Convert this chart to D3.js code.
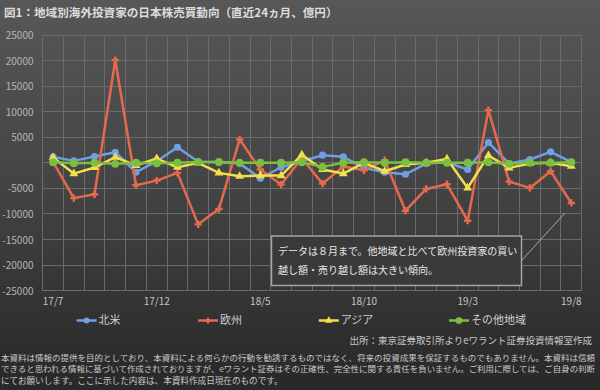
<!DOCTYPE html>
<html><head><meta charset="utf-8">
<script src="https://cdn.jsdelivr.net/npm/d3@7"></script>
<style>body{margin:0;background:#2a2a2a}svg{display:block}</style>
</head><body><svg id="c" width="600" height="390"></svg>
<script>
const months = ["17/7","17/8","17/9","17/10","17/11","17/12","18/1","18/2","18/3","18/4","18/5","18/6","18/7","18/8","18/9","18/10","18/11","18/12","19/1","19/2","19/3","19/4","19/5","19/6","19/7","19/8"];
const tickMonths = ["17/7","17/12","18/5","18/10","19/3","19/8"];
const seriesNames = ["北米","欧州","アジア","その他地域"];
const northAmerica = [1170,390,1240,2080,-1840,300,3060,200,130,-140,-3010,-860,300,1500,1170,-980,-1840,-2230,-140,100,-1310,3980,-140,650,2150,130];
const europe = [200,-6900,-6150,20100,-4390,-3470,-1960,-12030,-9020,4570,-1310,-4250,900,-4060,-700,-1440,520,-9350,-5100,-4190,-11310,10310,-3670,-4900,-1640,-7840];
const asia = [1040,-2100,-920,1100,-500,840,-860,0,-1960,-2630,-2490,-2490,1570,-1310,-2100,0,-1640,-330,0,780,-4900,1430,-980,-140,0,-660];
const others = [100,-100,0,-200,0,-100,0,150,150,0,0,0,100,-790,0,100,0,100,0,0,0,100,-200,0,0,100];
const yTicks = [25000,20000,15000,10000,5000,0,-5000,-10000,-15000,-20000,-25000];
const yTickLabels = ["25000","20000","15000","10000","5000","","-5000","-10000","-15000","-20000","-25000"];
const title = "図1：地域別海外投資家の日本株売買動向（直近24ヵ月、億円）";
const note = ["データは８月まで。他地域と比べて欧州投資家の買い","越し額・売り越し額は大きい傾向。"];
const source = "出所：東京証券取引所よりeワラント証券投資情報室作成";
const disclaimer = ["本資料は情報の提供を目的としており、本資料による何らかの行動を勧誘するものではなく、将来の投資成果を保証するものでもありません。本資料は信頼","できると思われる情報に基づいて作成されておりますが、eワラント証券はその正確性、完全性に関する責任を負いません。ご利用に際しては、ご自身の判断","にてお願いします。ここに示した内容は、本資料作成日現在のものです。"];

const FONT = "'Noto Sans CJK JP','Noto Sans',sans-serif";
const svg = d3.select("#c");
const defs = svg.append("defs");
const g = defs.append("linearGradient").attr("id","bg").attr("x1",0).attr("y1",0).attr("x2",0).attr("y2",1);
g.append("stop").attr("offset",0).attr("stop-color","#575757");
g.append("stop").attr("offset",0.45).attr("stop-color","#454545");
g.append("stop").attr("offset",0.86).attr("stop-color","#2f2f2f");
g.append("stop").attr("offset",1).attr("stop-color","#282828");
svg.append("rect").attr("width",600).attr("height",390).attr("fill","url(#bg)");

// title
svg.append("text").attr("x",4).attr("y",16.5).text(title)
  .attr("font-family",FONT).attr("font-size",11.6).attr("font-weight","bold").attr("fill","#dcdcdc");

const L = 42.7, R = 581.7, T = 35, B = 290.7;
const x = d3.scaleBand().domain(months).range([L,R]).padding(0);
const y = d3.scaleLinear().domain([-25000,25000]).range([B,T]);
const cx = m => x(m) + x.bandwidth()/2;

// grid
const grid = svg.append("g").attr("stroke","#6b6b6b").attr("stroke-width",1).attr("shape-rendering","crispEdges");
grid.selectAll("line.h").data(yTicks).join("line").attr("x1",L).attr("x2",R).attr("y1",d=>y(d)).attr("y2",d=>y(d));
grid.selectAll("line.v").data(months.concat([null])).join("line")
  .attr("x1",(d,i)=> i<months.length ? x(d) : R).attr("x2",(d,i)=> i<months.length ? x(d) : R)
  .attr("y1",T).attr("y2",B);

// y axis labels
const yAxis = d3.axisLeft(y).tickValues(yTicks).tickSize(0).tickPadding(0)
  .tickFormat((d,i)=>yTickLabels[i]);
const ya = svg.append("g").attr("transform","translate(33.5,0)").call(yAxis);
ya.select(".domain").remove();
ya.selectAll("text").attr("font-family",FONT).attr("font-size",10).attr("fill","#b4b4b4").attr("dy","0.35em");

// x axis labels
const xAxis = d3.axisBottom(x).tickValues(tickMonths).tickSize(0).tickPadding(0);
const xa = svg.append("g").attr("transform","translate(0,297.5)").call(xAxis);
xa.select(".domain").remove();
xa.selectAll("text").attr("font-family",FONT).attr("font-size",10).attr("fill","#c4c4c4").attr("dy","0.71em");

// series
const series = [
  {name:seriesNames[0], values:northAmerica, color:"#6f9fe6", sym:d3.symbolCircle, size:40},
  {name:seriesNames[1], values:europe, color:"#e46a4e", sym:d3.symbolCross, size:30},
  {name:seriesNames[2], values:asia, color:"#f2df4c", sym:d3.symbolTriangle, size:34},
  {name:seriesNames[3], values:others, color:"#7abf3f", sym:d3.symbolCircle, size:50}
];
const line = d3.line().x((d,i)=>cx(months[i])).y(d=>y(d));
series.forEach(s=>{
  const gs = svg.append("g");
  gs.append("path").datum(s.values).attr("d",line).attr("fill","none")
    .attr("stroke",s.color).attr("stroke-width",2.5).attr("stroke-linejoin","round");
  gs.selectAll("path.m").data(s.values).join("path").attr("class","m")
    .attr("transform",(d,i)=>`translate(${cx(months[i])},${y(d)})`)
    .attr("d",d3.symbol().type(s.sym).size(s.size)).attr("fill",s.color);
});

// annotation
svg.append("line").attr("x1",522).attr("y1",260).attr("x2",565).attr("y2",213)
  .attr("stroke","#a8a8a8").attr("stroke-width",1);
svg.append("rect").attr("x",271.5).attr("y",236).attr("width",250).attr("height",49.5)
  .attr("fill","#3a3a3a").attr("stroke","#a4a4a4").attr("stroke-width",1.5);
svg.selectAll("text.note").data(note).join("text").attr("class","note")
  .attr("x",278).attr("y",(d,i)=>254.5+i*19.5).text(d=>d)
  .attr("font-family",FONT).attr("font-size",10).attr("fill","#e6e6e6");

// legend
const legX = [76.6,198,318.8,449];
const leg = svg.selectAll("g.leg").data(series).join("g").attr("class","leg")
  .attr("transform",(d,i)=>`translate(${legX[i]},320.5)`);
leg.append("line").attr("x1",0).attr("x2",20).attr("stroke",d=>d.color).attr("stroke-width",2.5);
leg.append("path").attr("transform","translate(10,0)").attr("d",d=>d3.symbol().type(d.sym).size(d.size*0.7)()).attr("fill",d=>d.color);
leg.append("text").attr("x",22).attr("dy","0.35em").text(d=>d.name)
  .attr("font-family",FONT).attr("font-size",11).attr("fill","#cfcfcf");

// source
svg.append("text").attr("x",592).attr("y",344).attr("text-anchor","end").text(source)
  .attr("font-family",FONT).attr("font-size",9.5).attr("fill","#c8c8c8");

// disclaimer
const discSizes = [8.5, 8.1, 8.6];
svg.selectAll("text.disc").data(disclaimer).join("text").attr("class","disc")
  .attr("x",1).attr("y",(d,i)=>360.5+i*11.7).text(d=>d)
  .attr("font-family",FONT).attr("font-size",(d,i)=>discSizes[i]).attr("fill","#c8c8c8")
  .each(function(d,i){ if(i<2) d3.select(this).attr("textLength",594).attr("lengthAdjust","spacingAndGlyphs"); });
</script></body></html>
